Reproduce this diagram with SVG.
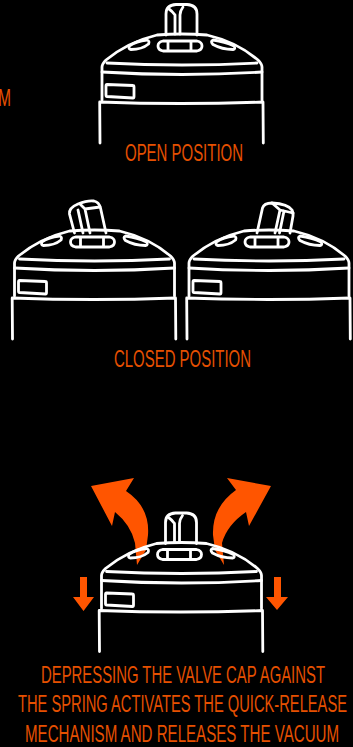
<svg xmlns="http://www.w3.org/2000/svg" xmlns:xlink="http://www.w3.org/1999/xlink" width="353" height="747" viewBox="0 0 353 747">
<style>
.l{fill:none;stroke:#fff;stroke-width:2.8;stroke-linecap:round;stroke-linejoin:round}
.t{font-family:"Liberation Sans",Arial,sans-serif;font-size:24px;fill:#e65000}
.a{fill:#ff5500}
</style>
<defs>
<g id="cap" class="l">
<path d="M100 143 L99.700 102 Q181 105 263 102 L263.300 143"/>
<path d="M102 100 L102 67 Q102 64 106 60 Q128 42 157 35 Q182 33 207 35 Q237 42 258 60 Q262 64 262 67 L262 100"/>
<path d="M107 63 Q182 67 257 63"/>
<path d="M102 72 Q182 77 262 72"/>
<path d="M107 84.500 L133 85.500 Q134 85.500 134 87 L134 96.500 Q134 98 133 98 L107 96.500 Q106 96.500 106 95 L106 86 Q106 84.500 107 84.500 Z"/>
<path d="M163 41 L197 41 Q202 42 202 46 Q202 50 197 51 L163 51 Q158 50 158 46 Q158 42 163 41 Z"/>
<path d="M168 41.500 L168 50.500 M191 41.500 L191 50.500"/>
<path d="M129.500 46 Q136 41 147 40 Q150 41 148.500 44 Q142 49.500 131 49.500 Q128 49 129.500 46 Z"/>
<path d="M213 40 Q225 41.500 234 46 Q236 49 233 49.500 Q222 49.500 213 44.500 Q210 41 213 40 Z"/>
</g>
<g id="knob-up" class="l">
<path d="M166 35 L166 14 Q166 5 176 4.500 L187 4.500 Q197 5 197 14 L197 35"/>
<path d="M175 34 L175 15 M180 34 L180 15 Q180 11 183 7 M175 15 Q172 11 169 9"/>
</g>
</defs>
<rect width="353" height="747" fill="#000"/>
<g id="connectors">
<path class="a" d="M91 486 L134 478 L126 491 Q150 507 148 535 L146 550 L137 565 L135 543 Q131 525 115 512 L112 526 Z"/>
<path class="a" d="M271 486 L227 478 L236 490 Q212 507 213 535 L215 550 L224 565 L222 543 Q227 525 246 512 L249 526 Z"/>
<path class="a" d="M80 577 L87 577 L87 597 L94 597 L83.500 611 L73 597 L80 597 Z"/>
<path class="a" d="M274 577 L281 577 L281 597 L288 597 L277 610 L266 597 L274 597 Z"/>
</g>
<g id="open-cap"><use href="#cap"/><use href="#knob-up"/></g>
<g id="closed-cap-left" transform="translate(-87.500 196)"><use href="#cap"/></g>
<g id="closed-knob-left" class="l">
<path d="M74.500 233 L69.500 214 Q68.500 208 78 204 Q88 200 94 201 Q99 202 100.500 208 L106 233"/>
<path d="M80 204 L85 209 L90 233 M85 209 L100 207 M78 210 L83 233"/>
</g>
<g id="closed-cap-right" transform="translate(87 196)"><use href="#cap"/></g>
<g id="closed-knob-right" class="l">
<path d="M257 233 L262.500 208 Q264 203 272 203 Q288 204 292 210 Q293.500 213 293 216 L290 233"/>
<path d="M275 233 L280 210 L272 203 M280 210 L293 213 M279.500 233 L284 211"/>
</g>
<g id="release-cap" transform="translate(-0.500 508.500)"><use href="#cap"/><use href="#knob-up"/></g>
<g id="labels">
<text class="t" transform="translate(-2 106) scale(.65 1)" textLength="20" lengthAdjust="spacingAndGlyphs">M</text>
<text class="t" transform="translate(125 161) scale(.65 1)" textLength="181.500" lengthAdjust="spacingAndGlyphs">OPEN POSITION</text>
<text class="t" transform="translate(114 367) scale(.65 1)" textLength="210.800" lengthAdjust="spacingAndGlyphs">CLOSED POSITION</text>
<text class="t" transform="translate(41 683) scale(.65 1)" textLength="436.900" lengthAdjust="spacingAndGlyphs">DEPRESSING THE VALVE CAP AGAINST</text>
<text class="t" transform="translate(18 712) scale(.55 1)" textLength="598.200" lengthAdjust="spacingAndGlyphs">THE SPRING ACTIVATES THE QUICK-RELEASE</text>
<text class="t" transform="translate(25 742) scale(.65 1)" textLength="483.100" lengthAdjust="spacingAndGlyphs">MECHANISM AND RELEASES THE VACUUM</text>
</g>
</svg>
